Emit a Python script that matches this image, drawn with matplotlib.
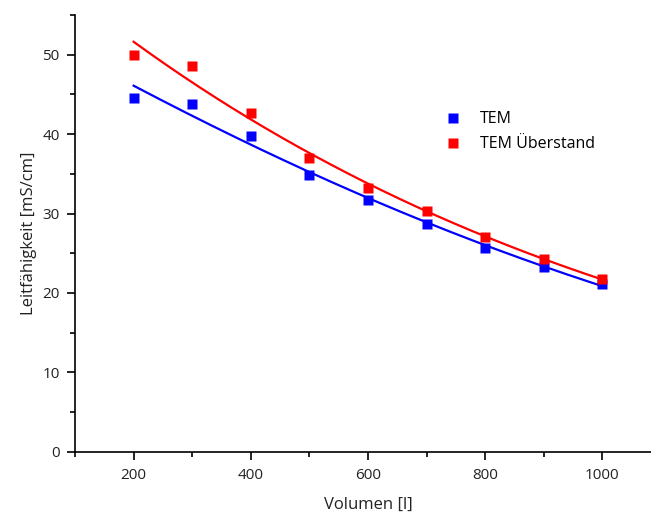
import numpy as np
import matplotlib
matplotlib.use("Agg")
import matplotlib.pyplot as plt
from matplotlib.ticker import MultipleLocator

plt.rcParams['font.family'] = ['Open Sans', 'DejaVu Sans']

volumen = [200, 300, 400, 500, 600, 700, 800, 900, 1000]
tem = [44.6, 43.8, 39.7, 34.8, 31.7, 28.7, 25.7, 23.3, 21.1]
tem_ueberstand = [49.9, 48.6, 42.7, 37.0, 33.2, 30.3, 27.0, 24.3, 21.8]

fig = plt.figure(figsize=(6.51, 5.16), dpi=100)
ax = fig.add_axes([75/651, 64.3/516, 1000*0.586/651, (451.7-15)/516])

xs = np.linspace(min(volumen), max(volumen), 200)
for y, col, lab in [(tem, '#0000ff', 'TEM'), (tem_ueberstand, '#ff0000', 'TEM Überstand')]:
    c = np.polyfit(volumen, np.log(y), 2)
    ax.plot(xs, np.exp(np.polyval(c, xs)), color=col, lw=1.6, zorder=2)
    ax.plot(volumen, y, 's', color=col, ms=7.5, mec='none', label=lab, zorder=3)

ax.set_xlim(100, 1100)
ax.set_ylim(0, 55)
ax.xaxis.set_major_locator(MultipleLocator(200))
ax.xaxis.set_minor_locator(MultipleLocator(100))
ax.yaxis.set_major_locator(MultipleLocator(10))
ax.yaxis.set_minor_locator(MultipleLocator(5))
for s in ['top', 'right']:
    ax.spines[s].set_visible(False)
for s in ['left', 'bottom']:
    ax.spines[s].set_linewidth(1.2)
ax.tick_params(which='major', direction='out', length=6, width=1.2, labelsize=11, colors='black', labelcolor='#222222')
ax.tick_params(which='minor', direction='out', length=3.5, width=1.2)
ax.tick_params(axis='x', pad=6)
ax.tick_params(axis='y', pad=5)
ax.set_xlabel('Volumen [l]', fontsize=12, labelpad=10, color='#222222')
ax.set_ylabel('Leitfähigkeit [mS/cm]', fontsize=12, labelpad=4, color='#222222')

ax.legend(loc='upper left', bbox_to_anchor=(0.607, 0.812), frameon=False, fontsize=11.5,
          handlelength=1.0, handletextpad=1.2, labelspacing=0.55, markerscale=1.0)

fig.savefig('out.png', dpi=100)
